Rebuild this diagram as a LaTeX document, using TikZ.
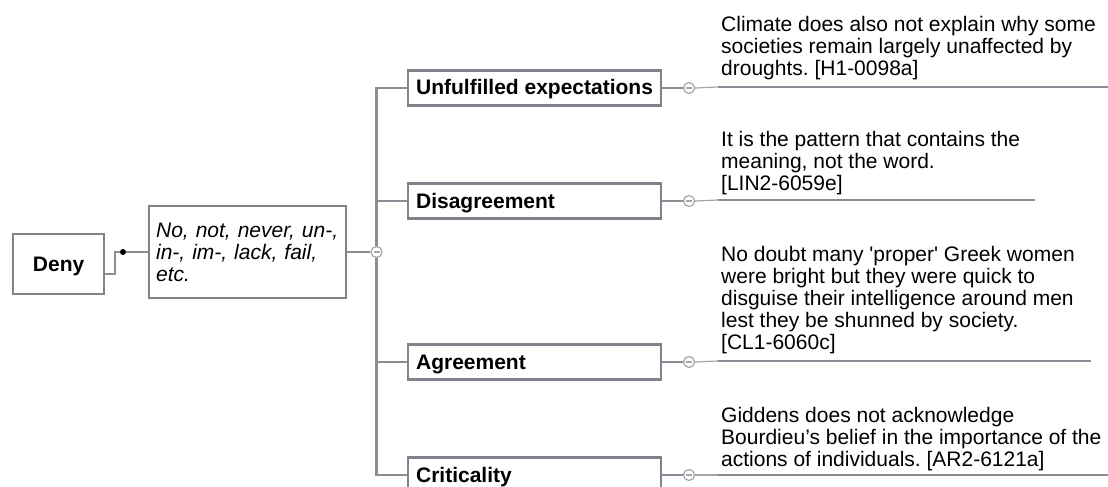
\documentclass[tikz,border=0pt]{standalone}
\usepackage{fontspec}
\setmainfont{Liberation Sans}
\usetikzlibrary{calc}
\definecolor{linec}{RGB}{140,140,150}
\definecolor{boxc}{RGB}{130,130,140}
\definecolor{knobc}{RGB}{165,165,172}
\newcommand{\mapfont}{\fontsize{21}{22}\selectfont}
\tikzset{
  topicbox/.style={draw=boxc, line width=2.2pt, fill=white, minimum height=35pt,
    inner xsep=8pt, inner ysep=0pt, text height=16pt, text depth=2pt,
    anchor=west, font=\mapfont\bfseries},
  conn/.style={draw=linec, line width=2.2pt},
  thinconn/.style={draw=knobc, line width=1.2pt},
  underln/.style={draw=linec, line width=2.4pt},
  knob/.style={circle, draw=knobc, fill=white, line width=1.2pt, minimum size=11pt, inner sep=0pt,
    path picture={\draw[knobc, line width=1.2pt] ([xshift=-3pt]path picture bounding box.center) -- ([xshift=3pt]path picture bounding box.center);}},
  quote/.style={anchor=base west, inner sep=0pt, font=\mapfont},
}
\newcommand{\quotelines}[1]{\parbox[b]{400pt}{\raggedright\frenchspacing #1}}
\begin{document}
\begin{tikzpicture}[x=1pt, y=-1pt]
\useasboundingbox (0,0) rectangle (1108,487);
\clip (0,0) rectangle (1108,487);

% root and its cue words
\node[draw=boxc, line width=2.2pt, minimum width=91pt, minimum height=60pt, inner sep=0pt,
      text height=16pt, text depth=2pt, font=\mapfont\bfseries, anchor=north west] (deny) at (12,233) {Deny};
\node[draw=boxc, line width=2.2pt, anchor=north west, minimum height=92pt, inner xsep=7pt, inner ysep=0pt,
      text width=183pt, align=left, font=\mapfont\itshape] (cue) at (148,205)
      {No, not, never, un-,\\in-, im-, lack, fail,\\etc.};
\node[circle, fill=black, inner sep=0pt, minimum size=6pt] (dot) at (123,252) {};
\draw[linec, line width=1.6pt] ([yshift=-10pt]deny.east) -- ++(10,0) |- (dot);
\draw[linec, line width=1.6pt] (dot) -- (cue.west |- dot);

% hub
\node[knob] (c0) at (376.5,252) {};
\draw[conn] (cue.east |- c0) -- (c0.west);

% topic boxes
\node[topicbox] (b1) at (407,88)  {\makebox[237pt][l]{Unfulfilled expectations}};
\node[topicbox] (b2) at (407,201) {\makebox[237pt][l]{Disagreement}};
\node[topicbox] (b3) at (407,362) {\makebox[237pt][l]{Agreement}};
\node[topicbox] (b4) at (407,475) {\makebox[237pt][l]{Criticality}};

% trunk
\draw[conn] (b1.west) -| (c0.north);
\draw[conn] (b4.west) -| (c0.south);
\draw[conn] (b2.west) -- (b2.west -| c0);
\draw[conn] (b3.west) -- (b3.west -| c0);

% collapse knobs
\node[knob] (c1) at (689,88)  {};
\node[knob] (c2) at (689,201) {};
\node[knob] (c3) at (689,362) {};
\node[knob] (c4) at (689,475) {};
\foreach \i in {1,2,3,4} {\draw[conn] (b\i.east) -- (c\i.west);}

% underline anchors
\coordinate (u1s) at (718,87);  \coordinate (u1e) at (1108,87);
\coordinate (u2s) at (718,200); \coordinate (u2e) at (1035,200);
\coordinate (u3s) at (718,361); \coordinate (u3e) at (1091,361);
\coordinate (u4s) at (718,475); \coordinate (u4e) at (1108,475);
\foreach \i in {1,2,3,4} {
  \draw[thinconn] (c\i.east) -- (u\i s);
  \draw[underln] (u\i s) -- (u\i e);
}

% example sentences
\node[quote] (t1) at (721,76) {\quotelines{Climate does also not explain why some\\societies remain largely unaffected by\\droughts. [H1-0098a]}};
\node[quote] (t2) at (721,190) {\quotelines{It is the pattern that contains the\\meaning, not the word.\\[0pt][LIN2-6059e]}};
\node[quote] (t3) at (721,349) {\quotelines{No doubt many \textquotesingle proper\textquotesingle\ Greek women\\were bright but they were quick to\\disguise their intelligence around men\\lest they be shunned by society.\\[0pt][CL1-6060c]}};
\node[quote] (t4) at (721,466) {\quotelines{Giddens does not acknowledge\\Bourdieu’s belief in the importance of the\\actions of individuals. [AR2-6121a]}};
\end{tikzpicture}
\end{document}
